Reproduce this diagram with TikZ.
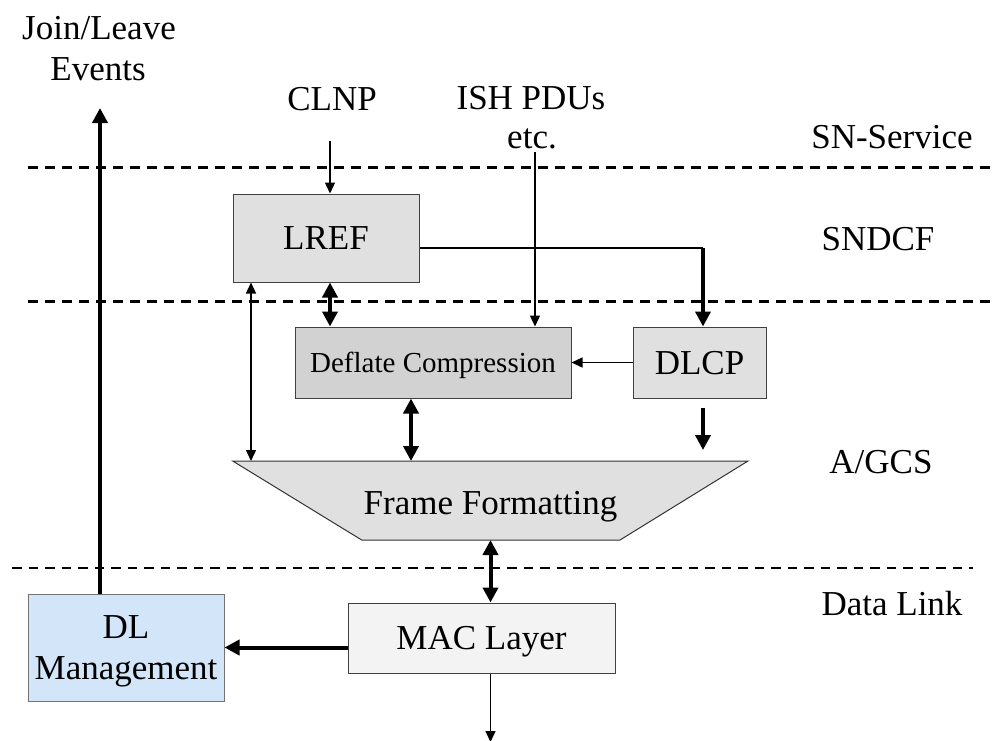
\documentclass[tikz,border=0pt]{standalone}
\usepackage{fontspec}
\setmainfont{Liberation Serif}
\usetikzlibrary{arrows.meta}
\definecolor{boxgray}{HTML}{E0E0E0}
\definecolor{deflgray}{HTML}{D2D2D2}
\definecolor{macgray}{HTML}{F3F3F3}
\definecolor{dlblue}{HTML}{D3E5F8}
\begin{document}
\begin{tikzpicture}[x=1pt,y=-1pt,
  box/.style={draw=black!75, line width=1pt, text depth=0pt, inner sep=0pt,
    font=\fontsize{35}{41}\selectfont},
  lbl/.style={font=\fontsize{35}{41}\selectfont, inner sep=0pt, anchor=base},
  fine/.style={line width=1.3pt, -{Triangle[length=11pt,width=10pt]}},
  fineboth/.style={line width=1.3pt,
    {Triangle[length=11pt,width=10pt]}-{Triangle[length=11pt,width=10pt]}},
  heavy/.style={line width=4pt, -{Triangle[length=15pt,width=15pt]}},
  heavyboth/.style={line width=4pt,
    {Triangle[length=15pt,width=15pt]}-{Triangle[length=15pt,width=15pt]}},
  layer/.style={line width=3pt, dash pattern=on 10pt off 7pt},
  sublayer/.style={line width=2pt, dash pattern=on 9.5pt off 7pt}
]
\useasboundingbox (0,0) rectangle (996,740);
\fill[white] (0,0) rectangle (996,740);

% layer boundaries
\draw[layer] (28,167) -- (996,167);
\draw[layer] (28,301) -- (996,301);
\draw[sublayer] (12,568) -- (973,568);

% layer names
\node[lbl] (snsvc) at (892,148) {SN-Service};
\node[lbl] (sndcf) at (878,250) {SNDCF};
\node[lbl] (agcs) at (881,473) {A/GCS};
\node[lbl] (dlink) at (892,615) {Data Link};

% upper inputs and events
\node[lbl] (join) at (99,39) {Join/Leave};
\node[lbl] (events) at (98,80) {Events};
\node[lbl] (clnp) at (332,110) {CLNP};
\node[lbl] (ish) at (531,109) {ISH PDUs};
\node[lbl] (etc) at (532,148) {etc.};

% functional blocks
\node[box, fill=boxgray, minimum width=186pt, minimum height=88pt] (lref) at (326,238) {LREF};
\node[box, fill=deflgray, minimum width=276pt, minimum height=71pt,
  font=\fontsize{29}{34}\selectfont] (defl) at (433,362.5) {Deflate Compression};
\node[box, fill=boxgray, minimum width=133pt, minimum height=71pt] (dlcp) at (699.5,362.5) {DLCP};
\node[box, fill=macgray, minimum width=267pt, minimum height=70pt] (mac) at (481.5,638) {MAC Layer};
\node[box, draw=black!55, fill=dlblue, minimum width=196pt, minimum height=107pt,
  align=center] (dl) at (126,647.5) {DL\\Management};

% frame formatting trapezoid
\coordinate (ftl) at (232.7,461);
\coordinate (ftr) at (748,461);
\coordinate (fbr) at (620,540);
\coordinate (fbl) at (361.7,540);
\draw[draw=black!80, line width=1pt, fill=boxgray] (ftl) -- (ftr) -- (fbr) -- (fbl) -- cycle;
\node[lbl] (ff) at (490.5,514) {Frame Formatting};

% connectors
\coordinate (clnpin) at (330,141);
\draw[fine] (clnpin) -- (clnpin |- lref.north);
\coordinate (ishin) at (535,152);
\draw[fine] (ishin) -- (ishin |- defl.north);
\coordinate (bend) at (703,248);
\draw[line width=1.3pt] (lref.east |- bend) -- (bend);
\draw[heavy] (bend) -- (bend |- dlcp.north);
\draw[heavyboth] (330,0 |- lref.south) -- (330,0 |- defl.north);
\draw[fineboth] (251,0 |- lref.south) -- (251,0 |- ftl);
\draw[fine] (dlcp.west) -- (defl.east);
\draw[heavyboth] (411,0 |- defl.south) -- (411,0 |- ftl);
\draw[heavy, shorten <=9pt, shorten >=11pt] (703,0 |- dlcp.south) -- (703,0 |- ftl);
\draw[heavyboth] (490.5,0 |- fbl) -- (490.5,0 |- mac.north);
\coordinate (macout) at (490.5,742);
\draw[fine] (490.5,0 |- mac.south) -- (macout);
\draw[heavy] (mac.west |- dl.east) -- (dl.east);
\coordinate (jl) at (100,108);
\draw[heavy] (100,0 |- dl.north) -- (jl);
\end{tikzpicture}
\end{document}
